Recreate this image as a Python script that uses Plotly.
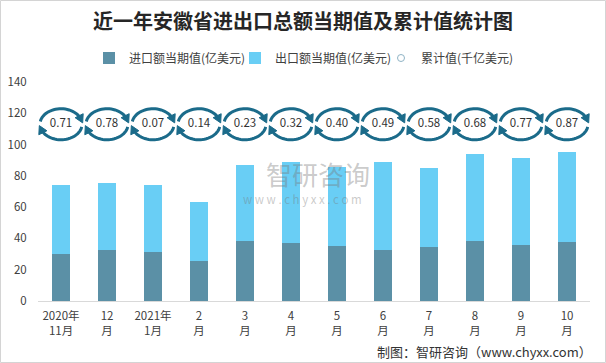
import numpy as np
import plotly.graph_objects as go

# ---------------- data ----------------
categories = ["2020年<br>11月", "12<br>月", "2021年<br>1月", "2<br>月", "3<br>月", "4<br>月",
              "5<br>月", "6<br>月", "7<br>月", "8<br>月", "9<br>月", "10<br>月"]
imports = [30.3, 32.8, 31.5, 25.8, 38.5, 37.3, 35.4, 32.8, 34.7, 38.5, 36.0, 37.9]
exports = [43.9, 42.7, 42.7, 37.6, 48.4, 51.7, 50.5, 56.1, 50.3, 55.5, 55.4, 57.3]
cumulative = [0.71, 0.78, 0.07, 0.14, 0.23, 0.32, 0.40, 0.49, 0.58, 0.68, 0.77, 0.87]

name_imp = "进口额当期值(亿美元)"
name_exp = "出口额当期值(亿美元)"
name_cum = "累计值(千亿美元)"
title = "近一年安徽省进出口总额当期值及累计值统计图"
footer = "制图：智研咨询（www.chyxx.com）"

# ---------------- style ----------------
C_IMP = "#5b90a6"
C_EXP = "#69cef5"
C_ICON = "#1b6b8a"
FONT = "Noto Sans CJK SC"
W, H = 606, 363
ML, MR, MT, MB = 38, 16, 82, 62
PW, PH = W - ML - MR, H - MT - MB
ICON_ROW = 113  # y level of the cumulative-value badges

x = list(range(len(categories)))

fig = go.Figure()
fig.add_trace(go.Bar(x=x, y=imports, name=name_imp, marker=dict(color=C_IMP, line=dict(width=0))))
fig.add_trace(go.Bar(x=x, y=exports, name=name_exp, marker=dict(color=C_EXP, line=dict(width=0))))
fig.add_trace(go.Scatter(x=[None], y=[None], mode="markers", name=name_cum,
                         marker=dict(symbol="circle-open", size=7, color="#8fb3c5", line=dict(width=1))))
fig.add_trace(go.Scatter(x=x, y=[ICON_ROW] * len(x), mode="text", showlegend=False,
                         text=[f"{v:.2f}" for v in cumulative],
                         textfont=dict(family=FONT, size=11.5, color="#333333"),
                         hoverinfo="skip"))

# ---------------- circular-arrow badges (pixel-sized paths) ----------------
rx, ry = 21.0, 15.5


def arc_pts(a0, a1, n=28):
    t = np.radians(np.linspace(a0, a1, n))
    return rx * np.cos(t), ry * np.sin(t)


def arrow_tri(theta_deg, L=8.0, Wd=9.0):
    t = np.radians(theta_deg)
    p = np.array([rx * np.cos(t), ry * np.sin(t)])
    d = np.array([rx * np.sin(t), -ry * np.cos(t)])
    d = d / np.linalg.norm(d)
    nrm = np.array([-d[1], d[0]])
    tip = p + d * L * 0.55
    base = p - d * L * 0.45
    c1 = base + nrm * Wd / 2
    c2 = base - nrm * Wd / 2
    return tip, c1, c2


def path_from(xs, ys):
    s = f"M{xs[0]:.2f},{ys[0]:.2f}"
    for a, b in zip(xs[1:], ys[1:]):
        s += f" L{a:.2f},{b:.2f}"
    return s


ax1, ay1 = arc_pts(170, 24)
ax2, ay2 = arc_pts(-10, -156)
arc_path = path_from(ax1, ay1) + " " + path_from(ax2, ay2)
tri_path = ""
for th in (20, -160):
    tip, c1, c2 = arrow_tri(th)
    tri_path += f"M{tip[0]:.2f},{tip[1]:.2f} L{c1[0]:.2f},{c1[1]:.2f} L{c2[0]:.2f},{c2[1]:.2f} Z "

shapes = []
for xi in x:
    shapes.append(dict(type="path", path=arc_path, xref="x", yref="y", xsizemode="pixel",
                       ysizemode="pixel", xanchor=xi, yanchor=ICON_ROW,
                       line=dict(color=C_ICON, width=3), fillcolor="rgba(0,0,0,0)"))
    shapes.append(dict(type="path", path=tri_path.strip(), xref="x", yref="y", xsizemode="pixel",
                       ysizemode="pixel", xanchor=xi, yanchor=ICON_ROW,
                       line=dict(color=C_ICON, width=1), fillcolor=C_ICON))

# outer border of the picture
shapes.append(dict(type="rect", xref="paper", yref="paper", layer="below",
                   x0=(0.5 - ML) / PW, x1=(W - 0.5 - ML) / PW,
                   y0=-(MB - 0.5) / PH, y1=(PH + MT - 0.5) / PH,
                   line=dict(color="#d4d4d4", width=1), fillcolor="rgba(0,0,0,0)"))

annotations = [
    dict(text="智研咨询", xref="paper", yref="paper", x=(318 - ML) / PW, y=(MT + PH - 173) / PH,
         showarrow=False, font=dict(family=FONT, size=26, color="rgba(120,120,120,0.40)")),
    dict(text="w w w . c h y x x . c o m", xref="paper", yref="paper", x=(302 - ML) / PW,
         y=(MT + PH - 199) / PH, showarrow=False,
         font=dict(family=FONT, size=11.5, color="rgba(120,120,120,0.40)")),
    dict(text=footer, xref="paper", yref="paper", x=(594 - ML) / PW, y=(MT + PH - 351) / PH,
         xanchor="right", yanchor="middle", showarrow=False,
         font=dict(family=FONT, size=13, color="#333333")),
]

fig.update_layout(
    width=W, height=H,
    margin=dict(l=ML, r=MR, t=MT, b=MB, pad=0, autoexpand=False),
    paper_bgcolor="white", plot_bgcolor="white",
    barmode="stack", bargap=0.59,
    title=dict(text=f"<b>{title}</b>", x=0.5, xref="container", xanchor="center",
               y=1 - 22 / H, yref="container", yanchor="middle",
               font=dict(family=FONT, size=20, color="#262626")),
    legend=dict(orientation="h", x=89 / W, xref="container", xanchor="left",
                y=1 - 58 / H, yref="container", yanchor="middle",
                font=dict(family=FONT, size=12, color="#404040"),
                itemwidth=30, entrywidth=101, traceorder="normal", bgcolor="rgba(0,0,0,0)"),
    xaxis=dict(tickmode="array", tickvals=x, ticktext=categories, range=[-0.5, len(x) - 0.5],
               showline=True, linecolor="#d9d9d9", linewidth=1, showgrid=False, zeroline=False,
               ticks="outside", ticklen=4, tickcolor="rgba(0,0,0,0)", automargin=False,
               tickfont=dict(family=FONT, size=11.5, color="#404040")),
    yaxis=dict(range=[0, 140], dtick=20, showgrid=False, zeroline=False, showline=False,
               ticks="outside", ticklen=8, tickcolor="rgba(0,0,0,0)", automargin=False,
               tickfont=dict(family=FONT, size=11.5, color="#404040")),
    shapes=shapes,
    annotations=annotations,
    showlegend=True,
)

fig.write_html("out.html", config={"displayModeBar": False},
               post_script="document.body.style.margin='0px';document.body.style.padding='0px';")
